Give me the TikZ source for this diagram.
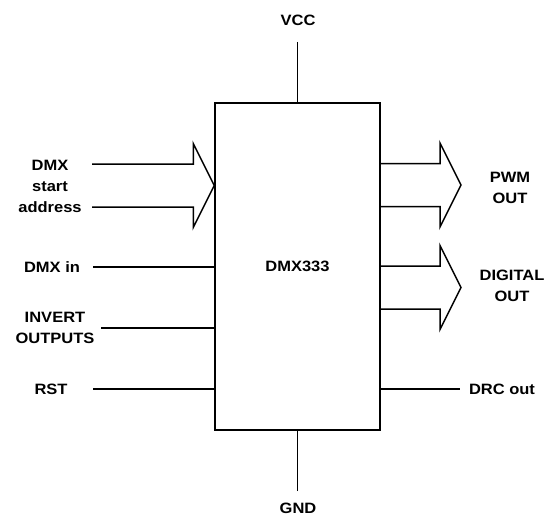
\documentclass[tikz,border=0pt]{standalone}
\usepackage{fontspec}
\setmainfont[FakeStretch=1.1]{Liberation Sans}
\usetikzlibrary{positioning,calc}
\definecolor{ink}{RGB}{0,0,0}
\tikzset{
  chipbox/.style={draw=ink,line width=1.5pt,minimum width=165pt,minimum height=327pt,
    inner sep=0pt,font=\bfseries\fontsize{15}{21}\selectfont},
  pin/.style={draw=ink,line width=1.5pt},
  bus/.style={draw=ink,line width=1.5pt,line join=miter},
  lbl/.style={font=\bfseries\fontsize{15}{21}\selectfont,text=ink,align=center,inner sep=0pt},
}
% wide bus arrow: #1 tail (middle), #2 tip
\newcommand{\busarrow}[2]{%
  \draw[bus] ($(#1)+(0,-21.5)$) -- ($(#2)+(-21,-21.5)$) -- ($(#2)+(-21,-42)$) -- (#2)
    -- ($(#2)+(-21,42)$) -- ($(#2)+(-21,21.5)$) -- ($(#1)+(0,21.5)$);}

\begin{document}
\begin{tikzpicture}[x=1pt,y=-1pt]
\useasboundingbox (0,0) rectangle (546,516);
\node[chipbox] (chip) at (297.5,266.5) {DMX333};

% power
\node[lbl] (vcc) at (298,20) {VCC};
\node[lbl] (gnd) at (298,508) {GND};
\coordinate (vccpin) at (297.5,42);
\coordinate (gndpin) at (297.5,491);
\draw[pin] (vccpin) -- (chip.north);
\draw[pin] (gndpin) -- (chip.south);

% left side
\node[lbl] (addr) at (50,186) {DMX\\start\\address};
\coordinate (addrpin) at (92,185.5);
\busarrow{addrpin}{chip.west |- addrpin}
\foreach \n/\x/\px/\y/\t in {din/52/93/267/{DMX in},inv/55/101/328/{INVERT\\OUTPUTS},rst/51/93/389/RST}{
  \node[lbl] (\n) at (\x,\y) {\t};
  \coordinate (\n pin) at (\px,\y);
  \draw[pin] (\n pin) -- (\n pin -| chip.west);
}

% right side
\node[lbl] (pwm) at (510,188) {PWM\\OUT};
\node[lbl] (dig) at (512,286) {DIGITAL\\OUT};
\coordinate (pwmtip) at (461,185);
\coordinate (digtip) at (461,287.5);
\busarrow{chip.east |- pwmtip}{pwmtip}
\busarrow{chip.east |- digtip}{digtip}
\node[lbl] (drc) at (502,389) {DRC out};
\coordinate (drcpin) at (460,389);
\draw[pin] (chip.east |- drcpin) -- (drcpin);
\end{tikzpicture}
\end{document}
